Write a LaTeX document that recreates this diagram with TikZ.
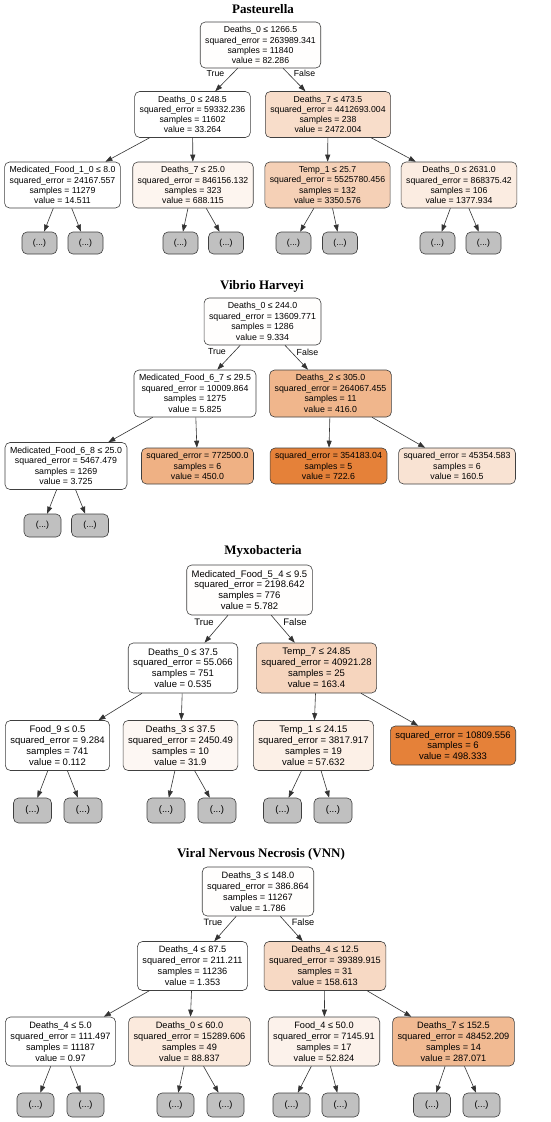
\documentclass[tikz,border=0pt]{standalone}
\usepackage{fontspec}
\setmainfont{Liberation Sans}
\newfontfamily\titlefont{Liberation Serif}
\usepackage{tikz}
\usetikzlibrary{arrows.meta}

\definecolor{skorange}{HTML}{E58139}
\definecolor{stubgray}{HTML}{C0C0C0}

\tikzset{
  split/.style={draw=black!75, line width=0.6pt, rounded corners=5pt,
    align=center, inner xsep=5pt, inner ysep=2pt},
  stub/.style={draw=black!75, line width=0.6pt, rounded corners=5pt,
    fill=stubgray, inner sep=0pt},
  arc/.style={-{Triangle[length=7pt,width=5pt]}, line width=0.6pt, black!80},
  title/.style={font=\titlefont\bfseries\fontsize{13}{15}\selectfont, anchor=base},
}

\begin{document}
\begin{tikzpicture}[x=1pt, y=-1pt]
  \useasboundingbox (0,0) rectangle (550,1122);

  % ── Pasteurella ───────────────────────────────────────────────────
  \begin{scope}[every node/.append style={font=\fontsize{8.7}{10.1}\selectfont},
      split/.append style={minimum height=46pt},
      stub/.append style={minimum width=35pt, minimum height=22pt}]
    \node[title] (t1) at (263, 13.5) {Pasteurella};

    \node[split, fill=skorange!1] (p0) at (260.5,45)
      {Deaths\_0 ≤ 1266.5\\squared\_error = 263989.341\\samples = 11840\\value = 82.286};
    \node[split, fill=white] (p1) at (192.5,114.5)
      {Deaths\_0 ≤ 248.5\\squared\_error = 59332.236\\samples = 11602\\value = 33.264};
    \node[split, fill=skorange!27] (p2) at (328,114.5)
      {Deaths\_7 ≤ 473.5\\squared\_error = 4412693.004\\samples = 238\\value = 2472.004};
    \node[split, fill=white] (p3) at (62.5,185)
      {Medicated\_Food\_1\_0 ≤ 8.0\\squared\_error = 24167.557\\samples = 11279\\value = 14.511};
    \node[split, fill=skorange!8] (p4) at (193,185)
      {Deaths\_7 ≤ 25.0\\squared\_error = 846156.132\\samples = 323\\value = 688.115};
    \node[split, fill=skorange!37] (p5) at (327.5,185)
      {Temp\_1 ≤ 25.7\\squared\_error = 5525780.456\\samples = 132\\value = 3350.576};
    \node[split, fill=skorange!15] (p6) at (459,185)
      {Deaths\_0 ≤ 2631.0\\squared\_error = 868375.42\\samples = 106\\value = 1377.934};

    \node[stub] (p3a) at (39.5,243)  {(...)};
    \node[stub] (p3b) at (85.5,243)  {(...)};
    \node[stub] (p4a) at (180.5,243) {(...)};
    \node[stub] (p4b) at (226,243)   {(...)};
    \node[stub] (p5a) at (293.5,243) {(...)};
    \node[stub] (p5b) at (340,243)   {(...)};
    \node[stub] (p6a) at (437.5,243) {(...)};
    \node[stub] (p6b) at (483.5,243) {(...)};

    \node (p0t) at (215.5,73.5) {True};
    \node (p0f) at (304.5,73.5) {False};

    \draw[arc] (p0) -- (p1);
    \draw[arc] (p0) -- (p2);
    \draw[arc] (p1) -- (p3);
    \draw[arc] (p1) -- (p4);
    \draw[arc] (p2) -- (p5);
    \draw[arc] (p2) -- (p6);
    \draw[arc] (p3) -- (p3a);
    \draw[arc] (p3) -- (p3b);
    \draw[arc] (p4) -- (p4a);
    \draw[arc] (p4) -- (p4b);
    \draw[arc] (p5) -- (p5a);
    \draw[arc] (p5) -- (p5b);
    \draw[arc] (p6) -- (p6a);
    \draw[arc] (p6) -- (p6b);
  \end{scope}

  % ── Vibrio Harveyi ────────────────────────────────────────────────
  \begin{scope}[every node/.append style={font=\fontsize{8.8}{10.5}\selectfont},
      split/.append style={minimum height=47pt},
      stub/.append style={minimum width=37pt, minimum height=23pt}]
    \node[title] (t2) at (262, 289) {Vibrio Harveyi};

    \node[split, fill=skorange!1] (v0) at (262.5,321.5)
      {Deaths\_0 ≤ 244.0\\squared\_error = 13609.771\\samples = 1286\\value = 9.334};
    \node[split, fill=white] (v1) at (195,393.5)
      {Medicated\_Food\_6\_7 ≤ 29.5\\squared\_error = 10009.864\\samples = 1275\\value = 5.825};
    \node[split, fill=skorange!58] (v2) at (330.5,393.5)
      {Deaths\_2 ≤ 305.0\\squared\_error = 264067.455\\samples = 11\\value = 416.0};
    \node[split, fill=white] (v3) at (66,466)
      {Medicated\_Food\_6\_8 ≤ 25.0\\squared\_error = 5467.479\\samples = 1269\\value = 3.725};
    \node[split, fill=skorange!62, minimum height=36pt] (v4) at (197.5,466)
      {squared\_error = 772500.0\\samples = 6\\value = 450.0};
    \node[split, fill=skorange, minimum height=36pt] (v5) at (328.5,466)
      {squared\_error = 354183.04\\samples = 5\\value = 722.6};
    \node[split, fill=skorange!22, minimum height=36pt] (v6) at (457,466)
      {squared\_error = 45354.583\\samples = 6\\value = 160.5};

    \node[stub] (v3a) at (42.5,525.5) {(...)};
    \node[stub] (v3b) at (90,525.5)   {(...)};

    \node (v0t) at (217,352) {True};
    \node (v0f) at (307.5,352) {False};

    \draw[arc] (v0) -- (v1);
    \draw[arc] (v0) -- (v2);
    \draw[arc] (v1) -- (v3);
    \draw[arc] (v1) -- (v4);
    \draw[arc] (v2) -- (v5);
    \draw[arc] (v2) -- (v6);
    \draw[arc] (v3) -- (v3a);
    \draw[arc] (v3) -- (v3b);
  \end{scope}

  % ── Myxobacteria ──────────────────────────────────────────────────
  \begin{scope}[every node/.append style={font=\fontsize{9.5}{10.9}\selectfont},
      split/.append style={minimum height=50pt},
      stub/.append style={minimum width=38pt, minimum height=25pt}]
    \node[title] (t3) at (263, 554) {Myxobacteria};

    \node[split, fill=skorange!1] (m0) at (249.5,590)
      {Medicated\_Food\_5\_4 ≤ 9.5\\squared\_error = 2198.642\\samples = 776\\value = 5.782};
    \node[split, fill=white] (m1) at (183,668)
      {Deaths\_0 ≤ 37.5\\squared\_error = 55.066\\samples = 751\\value = 0.535};
    \node[split, fill=skorange!33] (m2) at (316.5,668)
      {Temp\_7 ≤ 24.85\\squared\_error = 40921.28\\samples = 25\\value = 163.4};
    \node[split, fill=white] (m3) at (57.5,745.5)
      {Food\_9 ≤ 0.5\\squared\_error = 9.284\\samples = 741\\value = 0.112};
    \node[split, fill=skorange!6] (m4) at (180.5,745.5)
      {Deaths\_3 ≤ 37.5\\squared\_error = 2450.49\\samples = 10\\value = 31.9};
    \node[split, fill=skorange!12] (m5) at (313.5,745.5)
      {Temp\_1 ≤ 24.15\\squared\_error = 3817.917\\samples = 19\\value = 57.632};
    \node[split, fill=skorange, minimum height=39pt] (m6) at (453,745.5)
      {squared\_error = 10809.556\\samples = 6\\value = 498.333};

    \node[stub] (m3a) at (32.5,810.5) {(...)};
    \node[stub] (m3b) at (83,810.5)   {(...)};
    \node[stub] (m4a) at (166,810.5)  {(...)};
    \node[stub] (m4b) at (217,810.5)  {(...)};
    \node[stub] (m5a) at (282.5,810.5) {(...)};
    \node[stub] (m5b) at (333,810.5)  {(...)};

    \node (m0t) at (204,622.5) {True};
    \node (m0f) at (295,622.5) {False};

    \draw[arc] (m0) -- (m1);
    \draw[arc] (m0) -- (m2);
    \draw[arc] (m1) -- (m3);
    \draw[arc] (m1) -- (m4);
    \draw[arc] (m2) -- (m5);
    \draw[arc] (m2) -- (m6);
    \draw[arc] (m3) -- (m3a);
    \draw[arc] (m3) -- (m3b);
    \draw[arc] (m4) -- (m4a);
    \draw[arc] (m4) -- (m4b);
    \draw[arc] (m5) -- (m5a);
    \draw[arc] (m5) -- (m5b);
  \end{scope}

  % ── Viral Nervous Necrosis ────────────────────────────────────────
  \begin{scope}[every node/.append style={font=\fontsize{9.2}{11.1}\selectfont},
      split/.append style={minimum height=49pt},
      stub/.append style={minimum width=37pt, minimum height=24pt}]
    \node[title] (t4) at (261, 857) {Viral Nervous Necrosis (VNN)};

    \node[split, fill=skorange!1] (n0) at (258,891.5)
      {Deaths\_3 ≤ 148.0\\squared\_error = 386.864\\samples = 11267\\value = 1.786};
    \node[split, fill=white] (n1) at (192.5,966)
      {Deaths\_4 ≤ 87.5\\squared\_error = 211.211\\samples = 11236\\value = 1.353};
    \node[split, fill=skorange!30] (n2) at (325,966)
      {Deaths\_4 ≤ 12.5\\squared\_error = 39389.915\\samples = 31\\value = 158.613};
    \node[split, fill=white] (n3) at (60.5,1041.5)
      {Deaths\_4 ≤ 5.0\\squared\_error = 111.497\\samples = 11187\\value = 0.97};
    \node[split, fill=skorange!17] (n4) at (189.5,1041.5)
      {Deaths\_0 ≤ 60.0\\squared\_error = 15289.606\\samples = 49\\value = 88.837};
    \node[split, fill=skorange!10] (n5) at (324,1041.5)
      {Food\_4 ≤ 50.0\\squared\_error = 7145.91\\samples = 17\\value = 52.824};
    \node[split, fill=skorange!55] (n6) at (453.5,1041.5)
      {Deaths\_7 ≤ 152.5\\squared\_error = 48452.209\\samples = 14\\value = 287.071};

    \node[stub] (n3a) at (35.5,1105)  {(...)};
    \node[stub] (n3b) at (85.5,1105)  {(...)};
    \node[stub] (n4a) at (175.5,1105) {(...)};
    \node[stub] (n4b) at (225.5,1105) {(...)};
    \node[stub] (n5a) at (291.5,1105) {(...)};
    \node[stub] (n5b) at (340.5,1105) {(...)};
    \node[stub] (n6a) at (432,1105)   {(...)};
    \node[stub] (n6b) at (481.5,1105) {(...)};

    \node (n0t) at (213,922.5) {True};
    \node (n0f) at (303,922.5) {False};

    \draw[arc] (n0) -- (n1);
    \draw[arc] (n0) -- (n2);
    \draw[arc] (n1) -- (n3);
    \draw[arc] (n1) -- (n4);
    \draw[arc] (n2) -- (n5);
    \draw[arc] (n2) -- (n6);
    \draw[arc] (n3) -- (n3a);
    \draw[arc] (n3) -- (n3b);
    \draw[arc] (n4) -- (n4a);
    \draw[arc] (n4) -- (n4b);
    \draw[arc] (n5) -- (n5a);
    \draw[arc] (n5) -- (n5b);
    \draw[arc] (n6) -- (n6a);
    \draw[arc] (n6) -- (n6b);
  \end{scope}
\end{tikzpicture}
\end{document}
